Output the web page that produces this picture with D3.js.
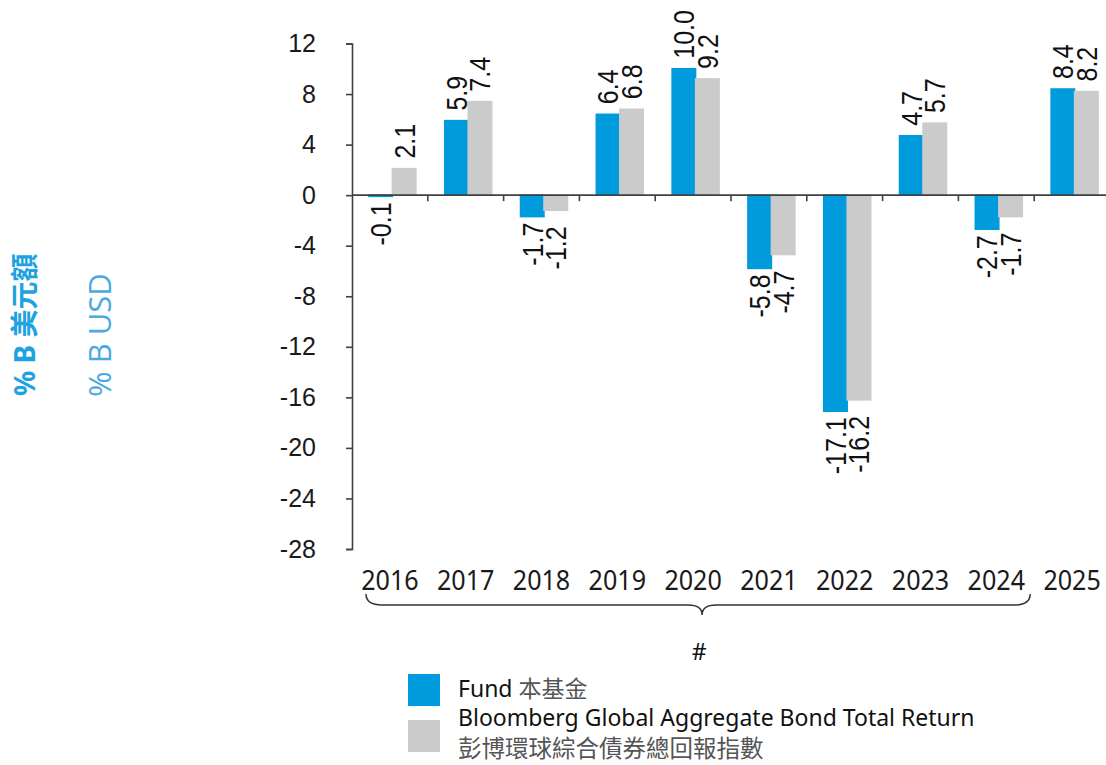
<!DOCTYPE html>
<html>
<head>
<meta charset="utf-8">
<script src="https://cdn.jsdelivr.net/npm/d3@7"></script>
<style>
  body { margin: 0; background: #fff; }
  svg { display: block; }
  .tick-label { font-family: "Liberation Sans", Arial, sans-serif; font-size: 25px; fill: #1a1a1a; }
  .data-label { font-family: "Liberation Sans", Arial, sans-serif; font-size: 25px; fill: #111; }
  .year-label { font-family: "Noto Sans", sans-serif; font-size: 27px; fill: #1a1a1a; }
  .legend-text { font-family: "Noto Sans", "Noto Sans CJK TC", sans-serif; font-size: 23px; fill: #111; }
  .legend-cjk { font-family: "Noto Sans CJK TC", sans-serif; font-size: 23.5px; fill: #555; }
</style>
</head>
<body>
<svg id="chart"></svg>
<script>
// chart values
const years = ['2016', '2017', '2018', '2019', '2020', '2021', '2022', '2023', '2024', '2025'];
const fundValues = [-0.1, 5.9, -1.7, 6.4, 10.0, -5.8, -17.1, 4.7, -2.7, 8.4];
const indexValues = [2.1, 7.4, -1.2, 6.8, 9.2, -4.7, -16.2, 5.7, -1.7, 8.2];
const yTicks = [12, 8, 4, 0, -4, -8, -12, -16, -20, -24, -28];
const seriesNames = ['Fund 本基金', 'Bloomberg Global Aggregate Bond Total Return'];
const indexNameCjk = '彭博環球綜合債券總回報指數';
const axisTitleCjk = '% B 美元額';
const axisTitleEn = '% B USD';

const W = 1106, H = 765;
const blue = '#009bdc', grey = '#cbcbcb', axisColor = '#404040';

const svg = d3.select('#chart').attr('width', W).attr('height', H);

const x = d3.scaleBand().domain(years).range([352, 1110]).padding(0);
const y = d3.scaleLinear().domain([-28, 12]).range([549, 43.5]);

const barW = 23.5, shift = 2.5;

// y axis
const yAxis = d3.axisLeft(y).tickValues(yTicks).tickSize(6).tickPadding(30).tickFormat(d => d);
const yAxisG = svg.append('g').attr('transform', 'translate(352,0)').call(yAxis);
yAxisG.select('.domain').attr('stroke', axisColor).attr('stroke-width', 1.6);
yAxisG.selectAll('.tick line').attr('stroke', axisColor).attr('stroke-width', 1.6);
yAxisG.selectAll('.tick text').attr('class', 'tick-label').attr('fill', null);

// bars
const series = [
  {values: fundValues, color: blue, dx: shift - barW, negGap: 6},
  {values: indexValues, color: grey, dx: shift, negGap: 16}
];

series.forEach(s => {
  svg.append('g').selectAll('rect')
    .data(years)
    .join('rect')
      .attr('x', (d, i) => x(d) + x.bandwidth() / 2 + s.dx)
      .attr('width', barW)
      .attr('y', (d, i) => Math.min(y(s.values[i]), y(0)))
      .attr('height', (d, i) => Math.abs(y(s.values[i]) - y(0)))
      .attr('fill', s.color)
      .attr('stroke', s.color)
      .attr('stroke-width', 1.5);
});

// x axis line and boundary ticks
svg.append('line')
  .attr('x1', 352).attr('x2', 1110)
  .attr('y1', y(0)).attr('y2', y(0))
  .attr('stroke', axisColor).attr('stroke-width', 1.6);

svg.append('g').selectAll('line')
  .data(years.slice(1))
  .join('line')
    .attr('x1', d => x(d)).attr('x2', d => x(d))
    .attr('y1', y(0)).attr('y2', y(0) + 6)
    .attr('stroke', axisColor).attr('stroke-width', 1.6);

// data labels (rotated)
series.forEach(s => {
  svg.append('g').selectAll('text')
    .data(years)
    .join('text')
      .attr('class', 'data-label')
      .attr('transform', (d, i) => {
        const v = s.values[i];
        const cx = x(d) + x.bandwidth() / 2 + s.dx + barW / 2;
        const py = v >= 0 ? y(v) - 10 : y(v) + s.negGap;
        return `translate(${cx},${py}) rotate(-90) scale(1,1.15)`;
      })
      .attr('dy', '0.36em')
      .attr('text-anchor', (d, i) => s.values[i] >= 0 ? 'start' : 'end')
      .text((d, i) => s.values[i].toFixed(1));
});

// year labels
svg.append('g').selectAll('text')
  .data(years)
  .join('text')
    .attr('class', 'year-label')
    .attr('text-anchor', 'middle')
    .attr('transform', d => `translate(${x(d) + x.bandwidth() / 2},590) scale(0.93,1)`)
    .text(d => d);

// brace under 2016-2024
const bl = x('2016') + 14, br = x('2024') + x.bandwidth() - 4;
const bm = (bl + br) / 2 + 4;
const p = d3.path();
p.moveTo(bl, 594);
p.quadraticCurveTo(bl, 605, bl + 16, 605);
p.lineTo(bm - 14, 605);
p.quadraticCurveTo(bm, 605, bm, 615);
p.quadraticCurveTo(bm, 605, bm + 14, 605);
p.lineTo(br - 16, 605);
p.quadraticCurveTo(br, 605, br, 594);
svg.append('path').attr('d', p.toString())
  .attr('fill', 'none').attr('stroke', '#333').attr('stroke-width', 1.5);

svg.append('text')
  .attr('x', bm - 3).attr('y', 660)
  .attr('text-anchor', 'middle')
  .attr('class', 'legend-text')
  .text('#');

// left axis titles
svg.append('text')
  .attr('transform', 'translate(35,396) rotate(-90)')
  .attr('font-family', '"Noto Sans", "Noto Sans CJK TC", sans-serif')
  .attr('font-size', 28).attr('font-weight', 700)
  .attr('fill', '#1ea3e0')
  .text(axisTitleCjk);

svg.append('text')
  .attr('transform', 'translate(111,397) rotate(-90)')
  .attr('font-family', '"Open Sans", sans-serif')
  .attr('font-size', 31)
  .attr('fill', '#4aaadf')
  .text(axisTitleEn);

// legend
const legend = svg.append('g');
legend.append('rect').attr('x', 408).attr('y', 674).attr('width', 32).attr('height', 32).attr('fill', blue);
legend.append('rect').attr('x', 408).attr('y', 720).attr('width', 32).attr('height', 32).attr('fill', grey);

const fundText = legend.append('text').attr('class', 'legend-text').attr('x', 458).attr('y', 697);
fundText.append('tspan').text(seriesNames[0].split(' ')[0] + ' ');
fundText.append('tspan').attr('fill', '#555').attr('font-family', '"Noto Sans CJK TC", sans-serif').text(seriesNames[0].split(' ')[1]);

legend.append('text').attr('class', 'legend-text').attr('x', 458).attr('y', 726).text(seriesNames[1]);
legend.append('text').attr('class', 'legend-cjk').attr('x', 458).attr('y', 757).text(indexNameCjk);
</script>
</body>
</html>
